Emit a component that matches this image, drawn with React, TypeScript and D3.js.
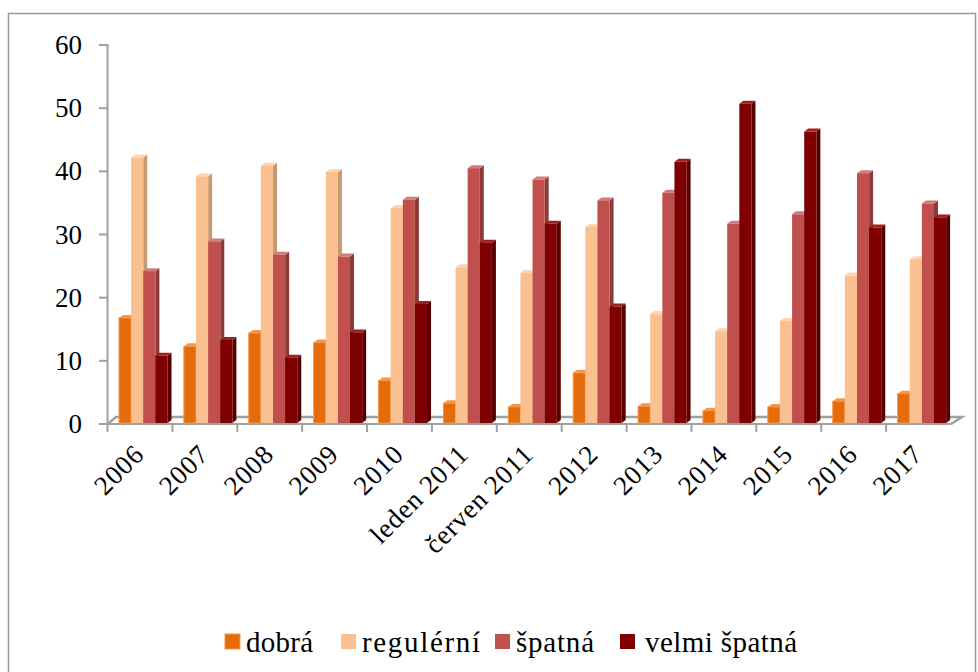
import React from "react";
import * as d3 from "d3";

const categories = ["2006","2007","2008","2009","2010","leden 2011","červen 2011","2012","2013","2014","2015","2016","2017"];
const dobra = [16.8,12.3,14.4,12.9,6.9,3.3,2.7,8.1,2.8,2.1,2.7,3.6,4.8];
const regulerni = [42.2,39.2,40.9,39.9,34.2,24.8,23.9,31.2,17.4,14.7,16.3,23.5,26.1];
const spatna = [24.2,28.9,26.8,26.5,35.5,40.5,38.7,35.4,36.6,31.7,33.2,39.7,34.9];
const velmiSpatna = [10.8,13.3,10.5,14.5,19,28.7,31.7,18.6,41.5,50.7,46.3,31.1,32.7];
const yTicks = [0,10,20,30,40,50,60];

const seriesNames = ["dobrá","regulérní","špatná","velmi špatná"];
const seriesValues = [dobra,regulerni,spatna,velmiSpatna];
const front = ["#e46c0a","#fac090","#c0504d","#7f0000"];
const side = ["#b4560a","#c89a73","#8a3a38","#560000"];
const capc = ["#f79646","#fcd5b5","#d07c7a","#a02020"];
const legendX = [225,341,495,620];
const legendTextX = [246,362,516,645];
const legendTextW = [67,118,78,152];

const FONT = "'Liberation Serif', serif";
const DX = 4, DY = 3;

export default function App() {
  const y = d3.scaleLinear().domain([0,60]).range([424,45]);
  const x0 = d3.scaleBand<string>().domain(categories).range([107.5,951]);
  const x1 = d3.scaleBand<number>().domain([0,1,2,3]).range([11.5,60]);
  const grey = "#a0a0a0";
  const base = y(0) - 1;
  return (
    <svg width={978} height={672} style={{position:"absolute",left:0,top:0,background:"#fff"}} fontFamily={FONT}>
      <path d="M8.5,672V13.5H975.5V672" fill="none" stroke="#999" strokeWidth={1.5}/>
      <path d={`M107.5,${y(0)} L116,417 H962 L951,${y(0)}`} fill="none" stroke={grey} strokeWidth={2.5}/>
      <line x1={107.5} x2={107.5} y1={y(60)-1} y2={y(0)+1} stroke={grey} strokeWidth={2}/>
      <line x1={107.5} x2={951} y1={y(0)} y2={y(0)} stroke={grey} strokeWidth={2}/>
      {yTicks.map(t=>(
        <g key={t}>
          <line x1={99} x2={107} y1={y(t)} y2={y(t)} stroke={grey} strokeWidth={2}/>
          <text x={82} y={y(t)+9} textAnchor="end" fontSize={27} fill="#000">{t}</text>
        </g>
      ))}
      {categories.map((c,i)=>{
        const tx = x0(c)!;
        return (
          <g key={c}>
            <line x1={tx} x2={tx} y1={y(0)} y2={y(0)+8} stroke={grey} strokeWidth={2}/>
            {seriesValues.map((vals,s)=>{
              const bx = tx + x1(s)!;
              const w = x1.bandwidth();
              const top = y(vals[i]);
              return (
                <g key={s}>
                  <path d={`M${bx+w},${top} l${DX},${-DY} V${base-DY} l${-DX},${DY} Z`} fill={side[s]}/>
                  <path d={`M${bx},${top} l${DX},${-DY} h${w} l${-DX},${DY} Z`} fill={capc[s]}/>
                  <rect x={bx} y={top} width={w} height={base-top} fill={front[s]} stroke={s===0?"#f79646":"none"} strokeWidth={1}/>
                </g>
              );
            })}
            <text transform={`translate(${tx+38},${y(0)+32}) rotate(-45)`} textAnchor="end" fontSize={27} letterSpacing={0.8} fill="#000">{c}</text>
          </g>
        );
      })}
      {seriesNames.map((n,s)=>(
        <g key={n}>
          <rect x={legendX[s]} y={634} width={15} height={15} fill={front[s]} stroke={s===0?"#f79646":"none"}/>
          <text x={legendTextX[s]} y={652} fontSize={29} textLength={legendTextW[s]} lengthAdjust="spacing" fill="#000">{n}</text>
        </g>
      ))}
    </svg>
  );
}
